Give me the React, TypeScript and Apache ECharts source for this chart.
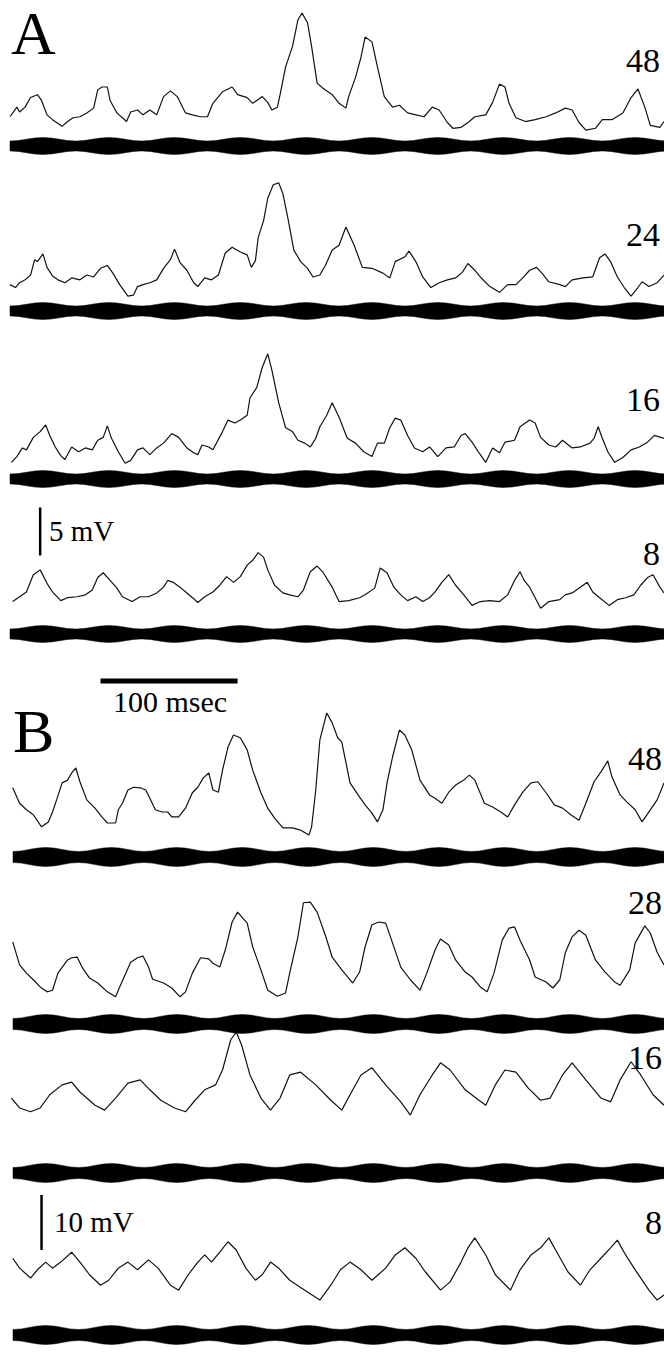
import React, { useEffect, useRef } from "react";
import * as echarts from "echarts";

// time in ms, membrane potential in mV (relative)
const traceA48 = [[0,1.9],[5,2.9],[7,2.4],[11,2.9],[15,3.9],[20,4.2],[23,3.6],[27,2.1],[31,1.6],[38,0.9],[42,1.4],[46,1.8],[51,1.9],[56,2.3],[61,2.8],[64,4.7],[67,5.0],[71,5.0],[73,3.6],[78,2.3],[85,1.4],[88,2.4],[93,2.6],[97,2.1],[102,2.6],[107,2.1],[112,4.0],[117,4.6],[122,4.0],[128,2.3],[133,2.1],[139,1.9],[144,1.9],[148,3.3],[155,4.5],[162,5.0],[166,4.2],[173,3.9],[177,3.3],[184,4.0],[188,3.4],[191,2.6],[195,2.9],[197,4.2],[201,7.1],[206,9.2],[210,12.0],[213,12.7],[217,11.7],[220,9.2],[224,5.4],[228,4.9],[235,4.2],[240,3.3],[245,2.8],[247,4.0],[252,6.0],[256,8.1],[259,10.2],[264,9.7],[268,7.1],[273,4.0],[279,2.9],[284,3.1],[290,2.3],[296,2.1],[302,1.9],[308,2.9],[313,2.6],[319,1.3],[323,0.7],[329,0.8],[335,1.4],[339,1.9],[347,2.1],[352,3.4],[357,5.3],[361,5.0],[364,3.3],[369,1.8],[376,1.4],[383,1.6],[391,1.9],[398,2.3],[405,2.8],[410,2.6],[415,1.3],[420,0.5],[427,0.7],[432,1.6],[439,1.6],[447,2.3],[453,3.9],[458,4.8],[463,2.9],[467,1.0],[474,0.8],[477,1.4]];
const traceA24 = [[0,1.6],[4,1.3],[7,1.8],[11,2.1],[15,2.6],[18,4.2],[20,4.0],[24,4.8],[27,3.4],[31,2.5],[35,2.1],[40,1.8],[45,2.3],[51,2.1],[56,2.6],[61,2.4],[66,3.3],[71,3.6],[75,2.8],[80,1.6],[86,0.4],[90,0.5],[93,1.4],[97,1.6],[102,1.8],[107,2.1],[112,3.3],[117,4.2],[120,5.3],[124,3.9],[129,3.1],[134,1.8],[137,1.4],[142,2.3],[147,2.1],[152,2.6],[157,4.9],[162,5.5],[168,5.0],[173,4.7],[176,3.4],[179,4.1],[181,6.5],[185,8.3],[188,10.6],[192,12.0],[196,12.2],[199,11.1],[203,8.3],[207,5.2],[212,4.0],[217,3.3],[221,2.4],[226,2.6],[230,3.6],[235,5.2],[240,5.7],[245,7.6],[251,5.7],[257,3.4],[264,3.3],[272,2.8],[277,2.3],[281,4.0],[288,4.5],[291,5.1],[296,4.0],[301,2.4],[307,1.3],[313,1.8],[319,2.1],[325,2.3],[330,2.9],[334,3.8],[339,3.1],[343,2.4],[350,1.4],[357,0.8],[363,1.6],[369,1.6],[374,2.3],[379,3.1],[384,3.4],[388,2.8],[393,1.9],[401,1.6],[405,1.4],[410,2.1],[418,2.3],[425,2.4],[430,4.4],[434,4.8],[438,4.0],[443,2.4],[448,1.3],[453,0.4],[458,1.3],[461,1.9],[466,1.4],[472,1.8],[477,2.6]];
const traceA16 = [[1,0.8],[5,1.4],[9,2.3],[12,2.1],[17,3.4],[22,4.0],[26,4.7],[29,3.6],[33,2.4],[37,1.5],[40,1.1],[45,2.4],[50,1.9],[55,2.3],[60,2.1],[64,3.1],[68,3.4],[71,4.6],[74,3.3],[79,1.9],[84,0.7],[88,1.0],[93,2.1],[97,2.3],[102,1.6],[107,2.3],[112,2.8],[118,3.8],[123,3.4],[129,2.3],[134,1.8],[137,1.6],[140,2.6],[145,2.4],[148,2.1],[155,4.0],[159,5.2],[164,4.9],[168,5.2],[173,5.7],[175,7.5],[180,8.6],[184,10.7],[188,12.1],[191,10.4],[196,7.0],[201,4.4],[206,4.0],[210,3.1],[215,2.8],[219,2.4],[223,3.3],[226,4.5],[231,5.7],[235,7.0],[240,5.5],[246,3.3],[252,2.8],[258,1.9],[264,1.4],[268,2.8],[273,2.8],[277,4.4],[281,5.4],[285,5.2],[290,3.6],[295,2.3],[301,1.9],[306,2.4],[312,1.4],[318,2.3],[324,2.4],[329,3.6],[332,3.8],[337,2.9],[342,1.8],[347,0.8],[352,2.3],[357,1.8],[361,2.9],[368,3.1],[372,4.5],[379,5.2],[383,4.9],[387,3.4],[393,2.6],[398,2.4],[403,3.1],[410,2.3],[416,2.4],[423,2.8],[426,3.3],[429,4.5],[432,3.3],[436,1.9],[441,0.8],[447,1.3],[453,2.1],[459,2.4],[465,2.9],[470,3.6],[477,3.3]];
const traceA8 = [[2,1.4],[7,1.9],[12,2.4],[17,4.2],[22,4.7],[27,3.3],[31,2.4],[37,1.5],[42,1.8],[49,1.9],[55,2.1],[60,2.6],[64,3.9],[68,4.4],[73,3.6],[78,2.8],[82,1.9],[89,1.4],[95,1.9],[101,1.9],[107,2.3],[112,2.9],[115,3.6],[119,3.4],[124,2.9],[129,2.3],[134,1.7],[137,1.3],[142,1.9],[148,2.4],[153,3.1],[158,4.0],[163,3.4],[168,4.0],[173,5.2],[177,5.7],[181,6.5],[185,6.0],[188,4.7],[193,3.1],[199,2.3],[204,2.1],[210,1.9],[214,2.6],[219,4.5],[224,5.1],[228,4.5],[235,2.9],[240,1.4],[247,1.5],[255,1.8],[259,2.1],[266,2.8],[270,4.9],[275,4.4],[280,2.9],[285,2.1],[290,1.5],[296,1.9],[301,1.4],[306,1.8],[310,2.4],[315,3.4],[320,4.2],[325,3.1],[331,2.1],[337,1.0],[343,1.4],[350,1.5],[357,1.4],[363,2.1],[368,3.6],[372,4.5],[375,3.6],[379,2.9],[383,1.8],[387,0.7],[393,1.4],[401,1.6],[405,2.1],[410,2.3],[416,2.9],[421,3.4],[425,2.4],[430,1.8],[437,1.0],[443,1.6],[449,1.8],[455,2.1],[460,3.1],[465,3.9],[469,4.2],[474,2.9],[477,2.3]];
const traceB48 = [[2,10.4],[7,7.6],[12,6.4],[17,5.5],[23,3.3],[28,4.2],[31,6.0],[34,8.2],[38,11.3],[42,11.8],[45,13.1],[48,14.0],[51,11.5],[56,8.2],[62,6.7],[67,5.1],[71,4.0],[77,4.0],[79,6.4],[82,7.6],[86,10.0],[90,10.5],[95,10.4],[99,10.0],[102,8.5],[106,6.4],[111,6.0],[115,6.0],[118,5.1],[123,5.1],[128,6.7],[133,9.5],[137,10.5],[141,12.2],[145,13.1],[148,10.0],[152,9.6],[155,13.6],[159,17.8],[163,20.0],[168,19.5],[173,17.3],[177,13.6],[183,9.5],[188,6.7],[193,4.9],[199,3.1],[206,3.1],[212,2.7],[218,1.8],[220,3.3],[223,10.0],[226,19.1],[231,24.0],[235,22.2],[239,19.5],[242,18.7],[248,11.3],[255,8.7],[259,7.3],[264,5.8],[268,4.2],[272,6.4],[275,11.3],[279,16.0],[284,20.9],[288,20.0],[293,17.3],[299,11.8],[306,9.1],[310,8.5],[315,7.6],[320,9.6],[325,10.9],[331,11.8],[335,12.7],[339,11.8],[346,7.6],[352,6.9],[358,6.0],[363,5.1],[368,7.3],[374,9.6],[380,11.3],[385,11.5],[391,9.5],[397,7.3],[403,6.7],[409,5.5],[415,4.5],[420,7.6],[426,11.5],[431,13.3],[436,15.3],[439,12.4],[445,9.1],[450,7.8],[456,6.4],[461,4.2],[467,6.4],[472,8.2],[477,11.3]];
const traceB28 = [[2,12.4],[7,8.2],[12,6.7],[17,5.5],[22,4.2],[27,3.3],[31,3.6],[35,6.7],[42,9.1],[45,9.5],[49,9.6],[53,7.6],[58,5.8],[64,4.9],[71,3.3],[77,2.4],[80,4.2],[88,8.7],[93,9.5],[97,9.8],[101,7.8],[104,5.6],[112,4.9],[118,4.0],[124,2.4],[128,3.3],[133,6.7],[139,9.5],[145,9.3],[148,8.5],[153,7.8],[157,10.9],[162,16.0],[166,17.8],[173,15.8],[177,11.5],[183,7.3],[188,3.6],[195,2.5],[201,3.1],[204,6.7],[210,13.3],[214,19.5],[219,19.6],[224,17.8],[230,13.6],[235,9.6],[242,7.3],[250,4.9],[255,6.9],[259,11.5],[264,15.5],[269,16.0],[274,15.8],[279,12.2],[285,7.8],[292,5.5],[299,3.6],[304,6.7],[310,10.9],[314,12.9],[320,11.8],[325,9.1],[332,6.9],[337,6.0],[343,4.2],[348,3.3],[353,6.7],[359,12.7],[364,14.9],[368,15.1],[372,12.7],[379,9.1],[383,6.0],[391,5.1],[396,4.0],[401,5.5],[405,10.4],[410,13.3],[415,14.5],[420,13.6],[427,9.1],[434,6.9],[441,5.1],[445,4.5],[452,7.3],[456,12.2],[463,15.3],[467,14.0],[472,10.5],[477,8.2]];
const traceB16 = [[1,4.9],[7,3.1],[15,2.4],[22,3.1],[29,5.5],[38,7.3],[45,7.8],[51,6.0],[62,3.6],[69,2.7],[77,4.9],[86,7.6],[95,8.2],[102,6.4],[110,4.5],[120,3.1],[128,2.4],[135,4.5],[142,6.4],[150,7.3],[155,10.0],[161,15.5],[165,16.9],[169,14.5],[175,9.1],[183,4.9],[190,2.7],[197,4.9],[204,9.1],[212,9.6],[223,7.3],[234,4.5],[242,2.7],[248,5.5],[256,9.1],[264,10.4],[274,7.3],[285,4.2],[292,1.8],[299,5.5],[308,9.1],[314,11.3],[321,10.0],[332,6.4],[342,4.5],[347,3.6],[354,7.3],[361,10.0],[369,9.6],[378,6.7],[387,4.5],[394,4.9],[403,9.1],[410,11.3],[420,8.2],[431,4.9],[438,4.2],[445,8.2],[453,11.5],[460,9.1],[469,5.5],[477,3.6]];
const traceB8 = [[2,8.5],[7,6.7],[15,4.9],[20,6.4],[26,7.8],[31,6.7],[37,7.8],[45,9.6],[51,7.8],[58,5.5],[66,3.6],[72,4.5],[79,6.7],[86,7.8],[93,6.4],[101,8.2],[108,6.7],[117,3.6],[123,2.7],[130,5.5],[137,7.8],[142,9.1],[147,7.8],[153,9.6],[159,11.5],[165,10.0],[172,6.7],[179,4.5],[184,5.5],[190,7.8],[196,6.7],[204,4.5],[215,2.7],[226,0.9],[234,3.6],[241,6.4],[248,7.8],[256,6.4],[264,4.5],[274,6.7],[281,9.1],[288,10.4],[296,8.5],[303,6.0],[314,2.7],[321,4.2],[329,7.8],[334,10.4],[339,12.2],[347,9.1],[354,5.5],[365,2.7],[372,6.4],[380,9.1],[387,10.4],[393,12.2],[400,9.1],[407,6.0],[416,3.6],[423,6.4],[431,8.5],[438,10.4],[443,11.8],[449,9.1],[456,6.4],[466,2.7],[472,0.9],[477,1.8]];

// stimulus envelope (relative amplitude) sampled every 6 ms
const stimEnvelope = [[0,0.58],[6,0.64],[12,0.8],[18,0.94],[24,1.0],[30,0.94],[36,0.8],[42,0.64],[48,0.58],[54,0.64],[60,0.8],[66,0.94],[72,1.0],[78,0.94],[84,0.8],[90,0.64],[96,0.58],[102,0.64],[108,0.8],[114,0.94],[120,1.0],[126,0.94],[132,0.8],[138,0.64],[144,0.58],[150,0.64],[156,0.8],[162,0.94],[168,1.0],[174,0.94],[180,0.8],[186,0.64],[192,0.58],[198,0.64],[204,0.8],[210,0.94],[216,1.0],[222,0.94],[228,0.8],[234,0.64],[240,0.58],[246,0.64],[252,0.8],[258,0.94],[264,1.0],[270,0.94],[276,0.8],[282,0.64],[288,0.58],[294,0.64],[300,0.8],[306,0.94],[312,1.0],[318,0.94],[324,0.8],[330,0.64],[336,0.58],[342,0.64],[348,0.8],[354,0.94],[360,1.0],[366,0.94],[372,0.8],[378,0.64],[384,0.58],[390,0.64],[396,0.8],[402,0.94],[408,1.0],[414,0.94],[420,0.8],[426,0.64],[432,0.58],[438,0.64],[444,0.8],[450,0.94],[456,1.0],[462,0.94],[468,0.8],[474,0.64],[480,0.58]];

const panelLabels = ["A", "B"];
const rateLabelsA = ["48", "24", "16", "8"];
const rateLabelsB = ["48", "28", "16", "8"];
const scaleA = { value: 5, unit: "5 mV" };
const scaleB = { value: 10, unit: "10 mV" };
const timeScale = { value: 100, unit: "100 msec" };

const TMAX = 477;
const SERIF = '"Liberation Serif", "Times New Roman", serif';

export default function App() {
  const ref = useRef<HTMLDivElement>(null);
  useEffect(() => {
    if (!ref.current) return;
    const chart = echarts.init(ref.current, undefined, { renderer: "svg" });
    const traces = [traceA48, traceA24, traceA16, traceA8, traceB48, traceB28, traceB16, traceB8];
    // layout (pixels)
    const traceBottoms = [135, 300, 470, 615, 845, 1010, 1125, 1305];
    const traceHeights = [134.4, 134.4, 134.4, 134.4, 143, 143, 143, 143];
    const traceMax = [14, 14, 14, 14, 26, 26, 26, 26];
    const bandCenters = [146, 311, 479, 634, 857, 1024, 1173, 1335];
    const bandUnit = [8.5, 8.5, 8.5, 8.5, 9.5, 9.5, 9.5, 9.5];
    const bandLeft = [10, 10, 10, 10, 13, 13, 13, 13];
    const grids: any[] = [];
    const xAxes: any[] = [];
    const yAxes: any[] = [];
    const series: any[] = [];
    const addGrid = (top: number, height: number, ymin: number, ymax: number, left = 10) => {
      grids.push({ left, width: 664 - left, top, height, containLabel: false });
      const i = grids.length - 1;
      xAxes.push({ gridIndex: i, type: "value", min: 0, max: TMAX, show: false });
      yAxes.push({ gridIndex: i, type: "value", min: ymin, max: ymax, show: false });
      return i;
    };
    const traceGrid: number[] = [];
    traces.forEach((tr, k) => {
      const g = addGrid(traceBottoms[k] - traceHeights[k], traceHeights[k], 0, traceMax[k]);
      traceGrid.push(g);
      series.push({
        type: "line", xAxisIndex: g, yAxisIndex: g, data: tr, symbol: "none", silent: true,
        lineStyle: { color: "#111", width: 1.2 }, z: 3,
      });
    });
    bandCenters.forEach((c, k) => {
      const h = 3 * bandUnit[k];
      const g = addGrid(c - h / 2, h, 0, 3, bandLeft[k]);
      series.push({
        type: "custom", xAxisIndex: g, yAxisIndex: g, silent: true, clip: false,
        data: [[0, 1.5]],
        encode: { x: 0, y: 1 },
        renderItem: (params: any, api: any) => {
          const up = stimEnvelope.map(([t, a]) => api.coord([t, 1.5 + a]));
          const lo = stimEnvelope.map(([t, a]) => api.coord([t, 1.5 - a])).reverse();
          return { type: "polygon", shape: { points: up.concat(lo) }, style: { fill: "#000", stroke: "#000", lineWidth: 0.5 } };
        },
      });
    });
    // time scale bar grid
    const tg = addGrid(676, 10, 0, 1);
    series.push({
      type: "line", xAxisIndex: tg, yAxisIndex: tg, symbol: "none", silent: true,
      data: [[66, 0.5], [66 + timeScale.value, 0.5]], lineStyle: { color: "#000", width: 5, cap: "butt" },
    });
    // voltage scale bars
    series.push({
      type: "line", xAxisIndex: traceGrid[3], yAxisIndex: traceGrid[3], symbol: "none", silent: true,
      data: [[22, 6.2], [22, 6.2 + scaleA.value]], lineStyle: { color: "#000", width: 2.5, cap: "butt" },
    });
    series.push({
      type: "line", xAxisIndex: traceGrid[7], yAxisIndex: traceGrid[7], symbol: "none", silent: true,
      data: [[23, 10], [23, 10 + scaleB.value]], lineStyle: { color: "#000", width: 2.5, cap: "butt" },
    });

    const txt = (text: string, x: number, y: number, size: number, align = "left") => ({
      type: "text", x, y, silent: true,
      style: {
        text, font: `${size}px ${SERIF}`, fill: "#000",
        align, textAlign: align, verticalAlign: "middle", textVerticalAlign: "middle",
      },
    });
    const rateYA = [60, 234, 399, 553];
    const rateYB = [758, 902, 1057, 1222];
    const graphics: any[] = [
      txt(panelLabels[0], 11, 33, 62),
      txt(panelLabels[1], 13, 731, 62),
      txt(scaleA.unit, 49, 531, 29),
      txt(timeScale.unit, 170, 701, 30, "center"),
      txt(scaleB.unit, 54, 1222, 29),
    ];
    rateLabelsA.forEach((l, k) => graphics.push(txt(l, 660, rateYA[k], 34, "right")));
    rateLabelsB.forEach((l, k) => graphics.push(txt(l, 662, rateYB[k], 34, "right")));

    chart.setOption({
      animation: false,
      backgroundColor: "#fff",
      grid: grids,
      xAxis: xAxes,
      yAxis: yAxes,
      series,
      graphic: graphics,
    });
    return () => chart.dispose();
  }, []);
  return <div ref={ref} style={{ position: "absolute", left: 0, top: 0, width: 664, height: 1354 }} />;
}
